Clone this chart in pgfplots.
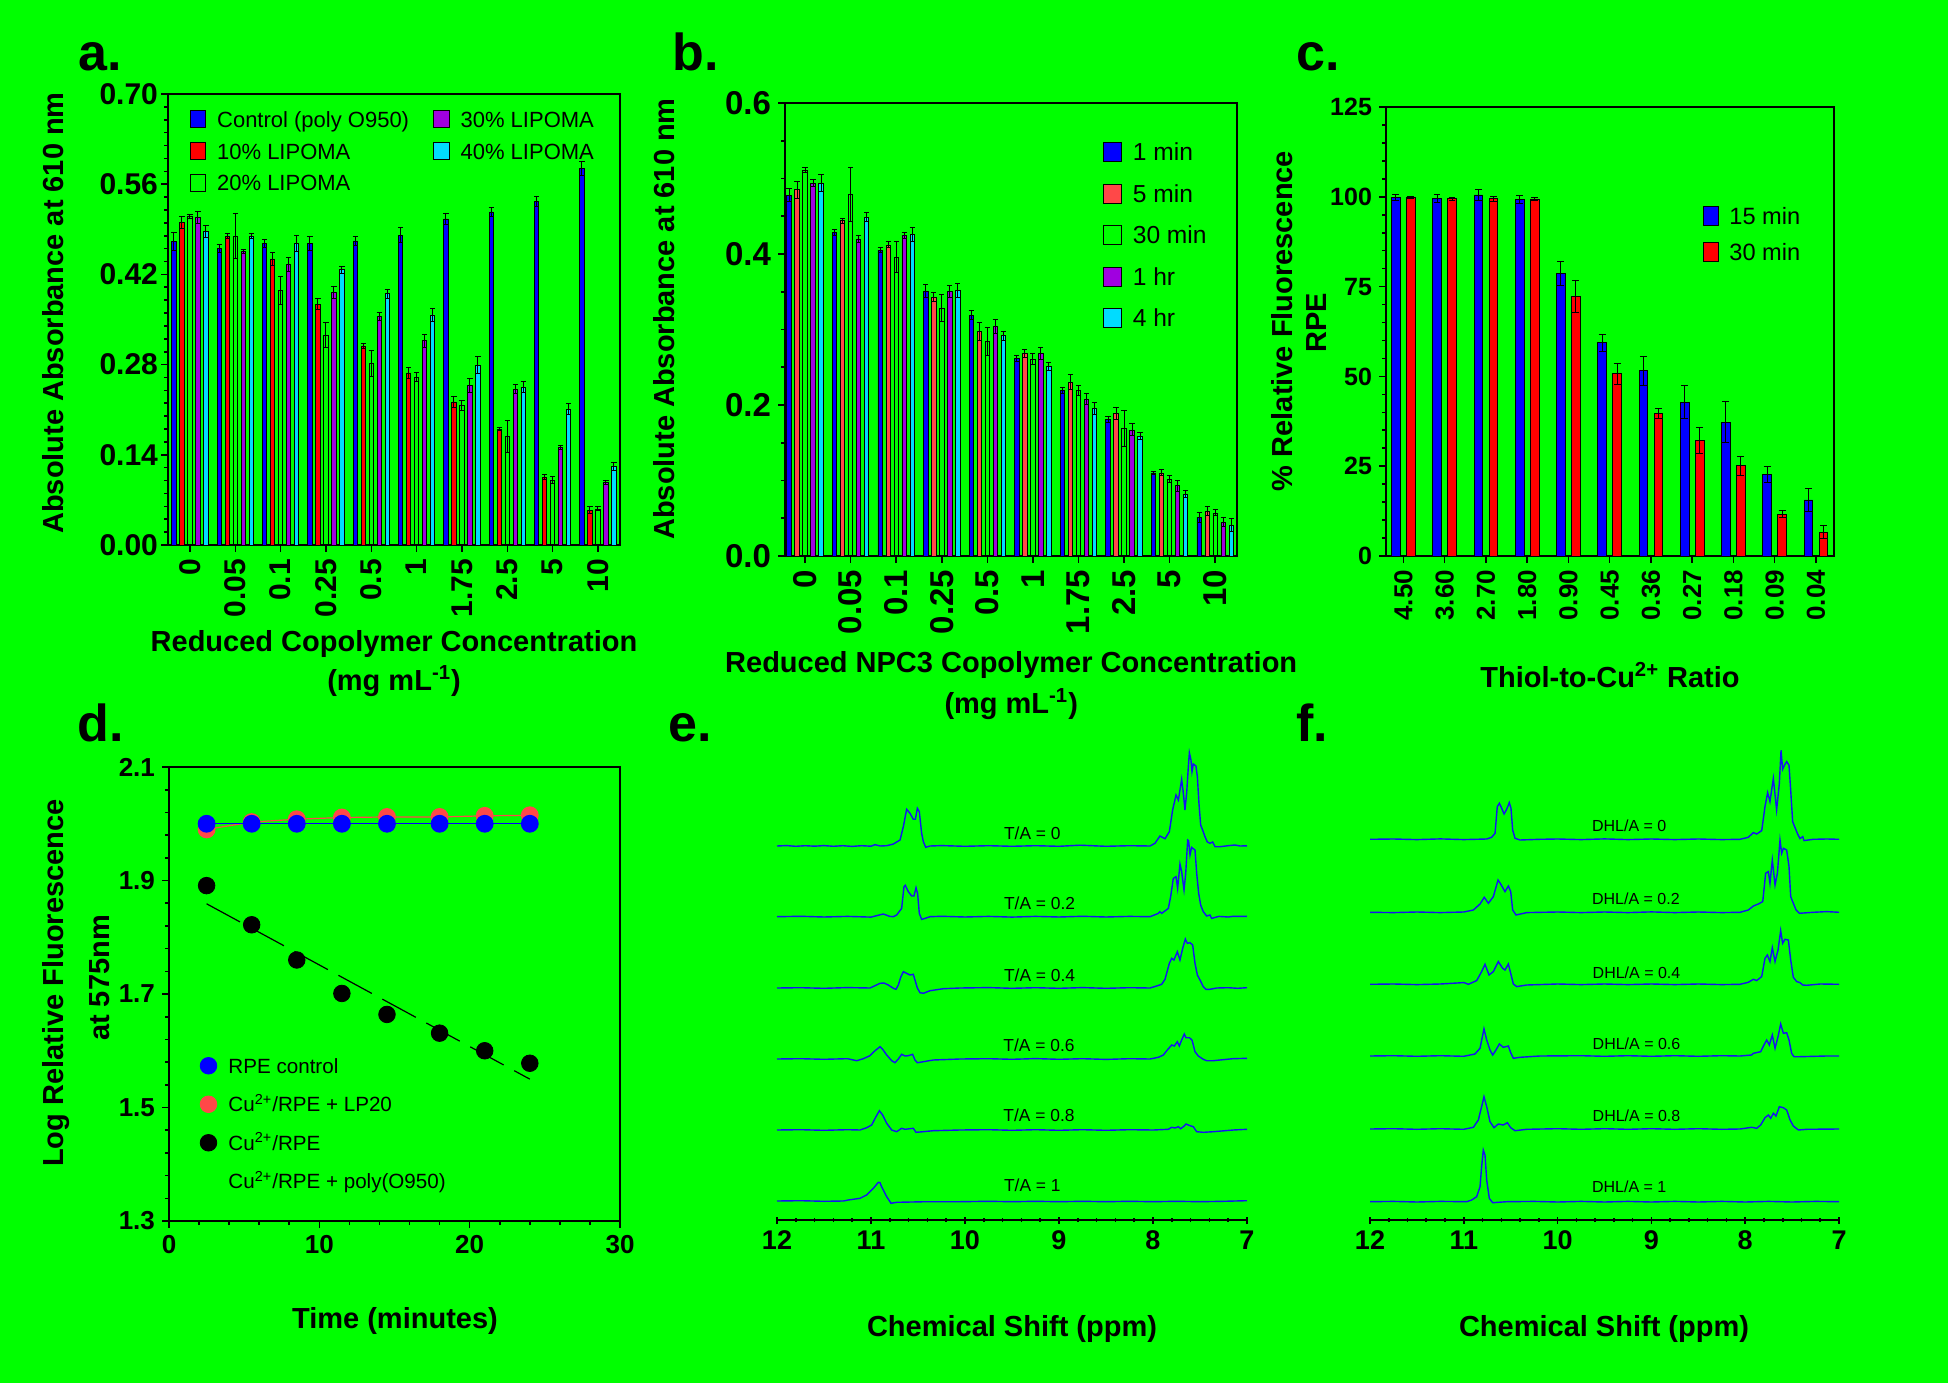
\documentclass[border=0pt]{standalone}
\usepackage{fontspec}
\setmainfont{Liberation Sans}
\usepackage{pgfplots}
\pgfplotsset{compat=1.18}

\definecolor{bg}{RGB}{0,255,0}
\definecolor{cblue}{RGB}{0,0,255}
\definecolor{cred}{RGB}{255,0,0}
\definecolor{lred}{RGB}{255,72,72}
\definecolor{cpurple}{RGB}{160,0,224}
\definecolor{ccyan}{RGB}{0,220,255}
\definecolor{cspec}{RGB}{20,20,240}

\newcommand{\fs}[1]{\fontsize{#1}{#1}\selectfont}

\pgfplotsset{
  panel/.style={scale only axis, anchor=south west, clip=false,
    axis line style={line width=1pt}, tick align=outside, tick pos=left,
    tick style={black, line width=0.8pt}, major tick length=3.5pt, minor tick length=2pt},
  bars/.style={panel, ybar, ymin=0,
    error bars/y dir=both, error bars/y explicit,
    error bars/error bar style={black, line width=0.5pt},
    error bars/error mark options={black, rotate=90, mark size=1.3pt, line width=0.5pt},
    xticklabel style={rotate=90, anchor=east},
    legend cell align=left},
  bx/.style={draw=black, line width=0.4pt, fill=#1},
  spec/.style={color=cspec, line width=0.7pt, mark=none},
}

\begin{document}
\begin{tikzpicture}
\fill[bg] (0,0) rectangle (974pt,691.5pt);
\useasboundingbox (0,0) rectangle (974pt,691.5pt);

% ---------------- a ----------------
\begin{axis}[bars, at={(84pt,419pt)}, width=226pt, height=225.5pt,
  xmin=-0.485, xmax=9.486, ymax=0.7, bar width=2.2pt,
  xtick={0,...,9}, xticklabels={0,0.05,0.1,0.25,0.5,1,1.75,2.5,5,10},
  ytick={0,0.14,0.28,0.42,0.56,0.7}, yticklabels={0.00,0.14,0.28,0.42,0.56,0.70},
  minor y tick num=6,
  tick label style={font=\fs{15}\bfseries},
  yticklabel style={xshift=2pt},
  legend style={at={(0.047,0.9645)}, anchor=north west, draw=none, fill=none, inner sep=0pt,
    font=\fs{11}, row sep=7.15pt, nodes={inner sep=0pt, text height=7.9pt, text depth=0pt},
    /tikz/every odd column/.append style={column sep=5.5pt},
    /tikz/every even column/.append style={column sep=12pt}},
  legend columns=3, transpose legend,
  legend image code/.code={\draw[#1,/tikz/.cd,line width=0.4pt] (0pt,-4.2pt) rectangle (7.85pt,4.2pt);},
]
\addplot[bx=cblue, bar shift=-8pt] coordinates {
(0,0.471) +- (0,0.014) (1,0.460) +- (0,0.006) (2,0.468) +- (0,0.006) (3,0.468) +- (0,0.011)
(4,0.472) +- (0,0.007) (5,0.481) +- (0,0.012) (6,0.506) +- (0,0.008) (7,0.517) +- (0,0.007)
(8,0.533) +- (0,0.008) (9,0.585) +- (0,0.011)};
\addlegendentry{Control (poly O950)}
\addplot[bx=cred, bar shift=-4pt] coordinates {
(0,0.501) +- (0,0.009) (1,0.479) +- (0,0.004) (2,0.444) +- (0,0.010) (3,0.374) +- (0,0.009)
(4,0.309) +- (0,0.004) (5,0.267) +- (0,0.008) (6,0.222) +- (0,0.008) (7,0.180) +- (0,0.003)
(8,0.105) +- (0,0.004) (9,0.054) +- (0,0.005)};
\addlegendentry{10\% LIPOMA}
\addplot[draw=black, line width=0.4pt, fill=none, bar shift=0pt] coordinates {
(0,0.510) +- (0,0.003) (1,0.479) +- (0,0.035) (2,0.395) +- (0,0.021) (3,0.326) +- (0,0.020)
(4,0.282) +- (0,0.020) (5,0.260) +- (0,0.007) (6,0.217) +- (0,0.008) (7,0.168) +- (0,0.025)
(8,0.101) +- (0,0.005) (9,0.056) +- (0,0.003)};
\addlegendentry{20\% LIPOMA}
\addplot[bx=cpurple, bar shift=4pt] coordinates {
(0,0.508) +- (0,0.009) (1,0.455) +- (0,0.003) (2,0.436) +- (0,0.011) (3,0.392) +- (0,0.010)
(4,0.355) +- (0,0.006) (5,0.317) +- (0,0.010) (6,0.248) +- (0,0.011) (7,0.242) +- (0,0.007)
(8,0.151) +- (0,0.003) (9,0.097) +- (0,0.003)};
\addlegendentry{30\% LIPOMA}
\addplot[bx=ccyan, bar shift=8pt] coordinates {
(0,0.487) +- (0,0.009) (1,0.479) +- (0,0.004) (2,0.468) +- (0,0.012) (3,0.427) +- (0,0.005)
(4,0.390) +- (0,0.007) (5,0.357) +- (0,0.010) (6,0.279) +- (0,0.013) (7,0.245) +- (0,0.008)
(8,0.211) +- (0,0.009) (9,0.122) +- (0,0.006)};
\addlegendentry{40\% LIPOMA}
\end{axis}

% ---------------- b ----------------
\begin{axis}[bars, at={(392.5pt,413.5pt)}, width=226pt, height=226.5pt,
  xmin=-0.44, xmax=9.48, ymax=0.6, bar width=2.2pt,
  xtick={0,...,9}, xticklabels={0,0.05,0.1,0.25,0.5,1,1.75,2.5,5,10},
  ytick={0,0.2,0.4,0.6}, yticklabels={0.0,0.2,0.4,0.6},
  minor y tick num=3,
  tick label style={font=\fs{16.5}\bfseries},
  legend style={at={(0.702,0.9146)}, anchor=north west, draw=none, fill=none, inner sep=0pt,
    font=\fs{12.3}, row sep=10.75pt, nodes={inner sep=0pt, text height=8.8pt, text depth=0pt},
    /tikz/every odd column/.append style={column sep=5.5pt}},
  legend image code/.code={\draw[#1,/tikz/.cd,line width=0.4pt] (0pt,-4.8pt) rectangle (9.15pt,4.8pt);},
]
\addplot[bx=cblue, bar shift=-8pt] coordinates {
(0,0.478) +- (0,0.009) (1,0.429) +- (0,0.004) (2,0.405) +- (0,0.003) (3,0.351) +- (0,0.008)
(4,0.319) +- (0,0.006) (5,0.262) +- (0,0.004) (6,0.219) +- (0,0.004) (7,0.181) +- (0,0.004)
(8,0.110) +- (0,0.002) (9,0.051) +- (0,0.006)};
\addlegendentry{1 min}
\addplot[bx=lred, bar shift=-4pt] coordinates {
(0,0.485) +- (0,0.011) (1,0.444) +- (0,0.003) (2,0.412) +- (0,0.004) (3,0.343) +- (0,0.006)
(4,0.297) +- (0,0.012) (5,0.268) +- (0,0.005) (6,0.230) +- (0,0.010) (7,0.189) +- (0,0.008)
(8,0.110) +- (0,0.004) (9,0.059) +- (0,0.006)};
\addlegendentry{5 min}
\addplot[draw=black, line width=0.4pt, fill=none, bar shift=0pt] coordinates {
(0,0.511) +- (0,0.003) (1,0.479) +- (0,0.036) (2,0.396) +- (0,0.020) (3,0.328) +- (0,0.018)
(4,0.284) +- (0,0.018) (5,0.261) +- (0,0.007) (6,0.219) +- (0,0.007) (7,0.169) +- (0,0.024)
(8,0.102) +- (0,0.004) (9,0.057) +- (0,0.004)};
\addlegendentry{30 min}
\addplot[bx=cpurple, bar shift=4pt] coordinates {
(0,0.494) +- (0,0.005) (1,0.420) +- (0,0.005) (2,0.425) +- (0,0.004) (3,0.350) +- (0,0.008)
(4,0.304) +- (0,0.009) (5,0.268) +- (0,0.008) (6,0.208) +- (0,0.007) (7,0.167) +- (0,0.008)
(8,0.093) +- (0,0.007) (9,0.045) +- (0,0.006)};
\addlegendentry{1 hr}
\addplot[bx=ccyan, bar shift=8pt] coordinates {
(0,0.494) +- (0,0.011) (1,0.449) +- (0,0.006) (2,0.426) +- (0,0.009) (3,0.352) +- (0,0.009)
(4,0.292) +- (0,0.006) (5,0.251) +- (0,0.005) (6,0.195) +- (0,0.008) (7,0.159) +- (0,0.005)
(8,0.082) +- (0,0.005) (9,0.041) +- (0,0.009)};
\addlegendentry{4 hr}
\end{axis}

% ---------------- c ----------------
\begin{axis}[bars, at={(693pt,413.5pt)}, width=224pt, height=224.5pt,
  xmin=-0.42, xmax=10.44, ymax=125, bar width=4.3pt,
  error bars/error mark options={black, rotate=90, mark size=1.7pt, line width=0.5pt},
  xtick={0,...,10}, xticklabels={4.50,3.60,2.70,1.80,0.90,0.45,0.36,0.27,0.18,0.09,0.04},
  ytick={0,25,50,75,100,125}, yticklabels={0,25,50,75,100,125},
  minor y tick num=4,
  xticklabel style={font=\fs{13}\bfseries},
  yticklabel style={font=\fs{12.5}\bfseries},
  legend style={at={(0.706,0.780)}, anchor=north west, draw=none, fill=none, inner sep=0pt,
    font=\fs{11.8}, row sep=8.05pt, nodes={inner sep=0pt, text height=8.5pt, text depth=0pt},
    /tikz/every odd column/.append style={column sep=5.3pt}},
  legend image code/.code={\draw[#1,/tikz/.cd,line width=0.4pt] (0pt,-4.8pt) rectangle (7.65pt,4.8pt);},
]
\addplot[bx=cblue, bar shift=-3.75pt] coordinates {
(0,99.8) +- (0,0.8) (1,99.5) +- (0,1.2) (2,100.5) +- (0,1.6) (3,99.3) +- (0,1.1)
(4,78.7) +- (0,3.3) (5,59.4) +- (0,2.4) (6,51.6) +- (0,4.0) (7,42.8) +- (0,4.6)
(8,37.3) +- (0,5.6) (9,22.7) +- (0,2.3) (10,15.6) +- (0,3.3)};
\addlegendentry{15 min}
\addplot[bx=cred, bar shift=3.75pt] coordinates {
(0,99.8) +- (0,0.3) (1,99.5) +- (0,0.4) (2,99.5) +- (0,0.7) (3,99.4) +- (0,0.5)
(4,72.2) +- (0,4.4) (5,50.7) +- (0,2.9) (6,39.7) +- (0,1.4) (7,32.1) +- (0,3.6)
(8,25.1) +- (0,2.6) (9,11.6) +- (0,1.0) (10,6.6) +- (0,1.8)};
\addlegendentry{30 min}
\end{axis}

% ---------------- d ----------------
\begin{axis}[panel, at={(84.5pt,81pt)}, width=225.5pt, height=227pt,
  xmin=0, xmax=30, ymin=1.3, ymax=2.1,
  xtick={0,10,20,30}, xticklabels={0,10,20,30}, minor x tick num=4,
  ytick={1.3,1.5,1.7,1.9,2.1}, yticklabels={1.3,1.5,1.7,1.9,2.1}, minor y tick num=4,
  tick label style={font=\fs{13}\bfseries},
  legend cell align=left,
  legend style={at={(0.0674,0.362)}, anchor=north west, draw=none, fill=none, inner sep=0pt,
    font=\fs{10.3}, row sep=10.55pt, nodes={inner sep=0pt, text height=7.4pt, text depth=0pt},
    /tikz/every odd column/.append style={column sep=5.65pt}},
  legend image code/.code={\fill[#1] (4.15pt,0pt) circle[radius=4.15pt];},
]
\addplot[forget plot, black, line width=0.6pt, dash pattern=on 19pt off 6pt] coordinates {(2.5,1.859) (24,1.550)};
\addplot[forget plot, lred, line width=0.6pt, mark=*, mark size=4.15pt, mark options={draw=none, fill=lred}] coordinates {
(2.5,1.990) (5.5,2.003) (8.5,2.008) (11.5,2.011) (14.5,2.012) (18,2.012) (21,2.014) (24,2.015)};
\addplot[forget plot, cblue, line width=0.6pt, mark=*, mark size=4.15pt, mark options={draw=none, fill=cblue}] coordinates {
(2.5,2.0) (5.5,2.0) (8.5,2.0) (11.5,2.0) (14.5,2.0) (18,2.0) (21,2.0) (24,2.0)};
\addplot[forget plot, only marks, mark=*, mark size=4.15pt, mark options={draw=none, fill=black}] coordinates {
(2.5,1.891) (5.5,1.822) (8.5,1.760) (11.5,1.701) (14.5,1.664) (18,1.631) (21,1.600) (24,1.578)};
\addlegendimage{cblue}
\addlegendentry{RPE control}
\addlegendimage{lred}
\addlegendentry{Cu\textsuperscript{2+}/RPE + LP20}
\addlegendimage{black}
\addlegendentry{Cu\textsuperscript{2+}/RPE}
\addlegendimage{opacity=0, draw=none, fill=none}
\addlegendentry{Cu\textsuperscript{2+}/RPE + poly(O950)}
\end{axis}

% ---------------- e ----------------
\begin{axis}[panel, at={(388.5pt,81.5pt)}, width=235pt, height=240pt,
  axis x line=bottom, axis y line=none, x axis line style={-},
  x dir=reverse, xmin=7, xmax=12, ymin=0, ymax=480,
  xtick={7,...,12}, xticklabels={7,8,9,10,11,12}, minor x tick num=4,
  xticklabel style={font=\fs{13.5}\bfseries},
]
\addplot[spec] table[x=ppm, y expr=\thisrow{i}+374] {
ppm i
12.00 0
11.90 0.4
11.80 -0.3
11.70 0.3
11.60 -0.2
11.50 0.4
11.40 -0.3
11.30 0.3
11.20 -0.4
11.10 0.3
11.00 -0.2
10.957 1.3
10.90 0
10.833 0.3
10.762 2
10.691 6
10.656 19.3
10.621 36.7
10.585 32.7
10.550 26.7
10.528 26.7
10.507 37.7
10.486 34.3
10.461 12.7
10.443 4.3
10.418 -1.3
10.372 0
10.25 0.4
10.00 -0.3
9.75 0.3
9.50 -0.3
9.25 0.3
9.00 -0.3
8.777 0.8
8.50 -0.3
8.25 0.3
8.032 0
7.979 2.7
7.926 10
7.901 8.7
7.872 7.3
7.826 14.3
7.791 36
7.755 51
7.730 46
7.713 56
7.695 66.7
7.677 52.7
7.660 36
7.642 52.7
7.624 79.3
7.613 93.3
7.596 86
7.585 74.3
7.571 82
7.543 80
7.528 69.3
7.511 42.7
7.493 21
7.472 16
7.447 9.3
7.422 4
7.394 2.7
7.365 4
7.340 -0.7
7.287 -0.7
7.20 0.3
7.128 1
7.074 0
7.00 0.2
};
\addplot[spec] table[x=ppm, y expr=\thisrow{i}+303.3] {
ppm i
12.00 0
11.75 0.4
11.50 -0.3
11.25 0.3
11.00 -0.4
10.869 2.7
10.80 0.3
10.762 0
10.727 1.7
10.674 8.3
10.649 30
10.635 31.3
10.603 25
10.567 20.7
10.543 20.7
10.521 29
10.504 23
10.486 3.3
10.461 -2.7
10.426 -1.7
10.372 0
10.25 0.4
10.00 -0.3
9.75 0.3
9.50 -0.4
9.25 0.3
9.00 -0.3
8.75 0.4
8.50 -0.3
8.25 0.3
8.032 0
7.943 3.3
7.926 5
7.908 3.3
7.837 8.3
7.812 20
7.784 38.3
7.755 40
7.738 28.3
7.713 52.7
7.695 45
7.670 26.7
7.652 43.3
7.631 76.7
7.621 76
7.606 61.7
7.589 69.3
7.553 66.7
7.535 43.3
7.514 23.3
7.493 11.7
7.465 5
7.429 0.7
7.394 1.7
7.376 -1.7
7.30 0.3
7.20 -0.3
7.145 0.4
7.00 0.3
};
\addplot[spec] table[x=ppm, y expr=\thisrow{i}+232] {
ppm i
12.00 0
11.75 0.3
11.50 -0.3
11.25 0.4
11.011 0
10.957 2.3
10.904 4.7
10.862 5
10.816 3
10.762 -0.3
10.734 -1.3
10.709 3
10.684 10.7
10.656 16.3
10.621 14.7
10.585 13
10.550 13.7
10.532 8
10.507 0
10.479 -4.7
10.443 -5.3
10.372 -2.7
10.230 -0.7
10.053 0
9.75 0.4
9.50 -0.3
9.25 0.3
9.00 -0.3
8.75 0.4
8.50 -0.3
8.25 0.3
8.032 0
7.961 2
7.908 3.7
7.872 8.7
7.826 24.7
7.801 29.7
7.777 28
7.741 36.3
7.713 28
7.684 39.7
7.656 49
7.635 44.7
7.606 45.3
7.578 43
7.553 24.7
7.528 13
7.500 8
7.465 1.3
7.436 -1.3
7.394 -1.3
7.323 0
7.20 0.3
7.10 -0.3
7.00 0.3
};
\addplot[spec] table[x=ppm, y expr=\thisrow{i}+161] {
ppm i
12.00 0
11.75 0.3
11.50 -0.3
11.25 0.3
11.152 -1.7
11.082 0.3
11.011 3.3
10.957 8.3
10.904 12.3
10.876 9.7
10.833 4
10.780 -1.7
10.745 -3.7
10.709 0
10.674 4.7
10.638 3
10.603 3.3
10.557 4.7
10.532 -1
10.507 -3.7
10.443 -2.7
10.337 -1
10.053 0
9.75 0.3
9.50 -0.3
9.25 0.4
9.00 -0.3
8.75 0.3
8.50 -0.4
8.25 0.3
8.032 0
7.943 1.7
7.890 4
7.848 9
7.801 14
7.773 13
7.741 17.3
7.720 13
7.695 19
7.667 25
7.649 21.3
7.613 21.3
7.585 19
7.553 7.3
7.518 3
7.465 -0.3
7.429 -1.7
7.358 -1.7
7.287 -1
7.15 0.3
7.00 0.7
};
\addplot[spec] table[x=ppm, y expr=\thisrow{i}+90] {
ppm i
12.00 0
11.75 0.3
11.50 -0.3
11.25 0.3
11.117 0
11.046 2.3
10.993 5
10.947 13.3
10.911 19.3
10.876 15
10.833 6.7
10.780 0
10.727 -1.7
10.674 1.7
10.638 0.7
10.550 1.7
10.521 -2.3
10.479 -2
10.337 -0.7
10.053 0
9.75 0.3
9.50 -0.3
9.25 0.3
9.00 -0.3
8.75 0.3
8.50 -0.3
8.25 0.3
7.996 0
7.837 0.7
7.801 2.7
7.766 2
7.730 3.3
7.706 1.3
7.677 3.3
7.649 6
7.606 4.3
7.571 3.3
7.535 -1.7
7.465 -2.3
7.358 -1.7
7.145 0
7.00 0.7
};
\addplot[spec] table[x=ppm, y expr=\thisrow{i}+19] {
ppm i
12.00 0
11.75 0.3
11.50 -0.3
11.294 0
11.241 1
11.117 2.7
11.046 6
10.975 12.7
10.922 18.7
10.904 18.3
10.887 14.3
10.833 4.3
10.787 -2.3
10.727 -1.3
10.408 -0.7
10.053 -0.7
9.75 -0.3
9.50 -0.7
9.25 -0.3
9.00 -0.7
8.75 -0.3
8.50 -0.7
8.25 -0.3
8.00 -0.7
7.75 -0.3
7.50 -0.7
7.25 -0.3
7.00 0.3
};
\node[font=\fs{8.7}, anchor=west, inner sep=0pt] at (axis cs:9.589,386.7) {T/A = 0};
\node[font=\fs{8.7}, anchor=west, inner sep=0pt] at (axis cs:9.589,316.7) {T/A = 0.2};
\node[font=\fs{8.7}, anchor=west, inner sep=0pt] at (axis cs:9.589,244.7) {T/A = 0.4};
\node[font=\fs{8.7}, anchor=west, inner sep=0pt] at (axis cs:9.595,175) {T/A = 0.6};
\node[font=\fs{8.7}, anchor=west, inner sep=0pt] at (axis cs:9.595,104.3) {T/A = 0.8};
\node[font=\fs{8.7}, anchor=west, inner sep=0pt] at (axis cs:9.589,35) {T/A = 1};
\end{axis}

% ---------------- f ----------------
\begin{axis}[panel, at={(685pt,81.5pt)}, width=234.5pt, height=240pt,
  axis x line=bottom, axis y line=none, x axis line style={-},
  x dir=reverse, xmin=7, xmax=12, ymin=0, ymax=480,
  xtick={7,...,12}, xticklabels={7,8,9,10,11,12}, minor x tick num=4,
  xticklabel style={font=\fs{13.5}\bfseries},
]
\addplot[spec] table[x=ppm, y expr=\thisrow{i}+380.7] {
ppm i
12.00 0
11.75 0.3
11.50 -0.3
11.25 0.4
11.00 -0.3
10.756 0.3
10.703 2
10.667 6
10.643 32.7
10.621 36
10.596 31
10.571 25.3
10.543 30
10.515 36.7
10.497 31
10.479 9.3
10.454 1
10.401 -0.7
10.188 0
10.00 0.3
9.75 -0.3
9.50 0.4
9.25 -0.3
9.00 0.3
8.75 -0.3
8.50 0.3
8.25 -0.3
8.055 0
7.967 2
7.913 6.7
7.878 5.3
7.824 8.7
7.789 32.7
7.761 46.7
7.736 37.7
7.700 61
7.665 29.3
7.636 56
7.618 89
7.601 70
7.576 75
7.558 77.7
7.533 74
7.515 49
7.494 17.7
7.480 14.3
7.440 5
7.416 0.7
7.387 2.7
7.373 -1.3
7.274 0
7.131 0.3
7.00 0
};
\addplot[spec] table[x=ppm, y expr=\thisrow{i}+307.7] {
ppm i
12.00 0
11.75 -0.3
11.50 0.3
11.25 -0.3
11.00 0.3
10.898 2.3
10.827 8.3
10.782 15
10.738 9
10.685 15.7
10.635 32.3
10.607 28.3
10.561 20.7
10.525 26.3
10.500 20.7
10.479 2.3
10.443 -2.7
10.330 -0.3
10.00 0.3
9.75 -0.3
9.50 0.3
9.25 -0.3
9.00 0.4
8.75 -0.3
8.50 0.3
8.25 -0.3
8.055 0
7.967 2.3
7.913 6.3
7.860 8.3
7.813 10.7
7.782 39
7.753 40.7
7.736 29
7.711 52.3
7.682 27.3
7.657 39
7.629 72.3
7.611 59
7.593 64
7.558 62.3
7.533 45.7
7.515 15.7
7.487 9
7.458 2.3
7.423 -1
7.274 0
7.131 0.7
7.00 0
};
\addplot[spec] table[x=ppm, y expr=\thisrow{i}+235.7] {
ppm i
12.00 0
11.75 0.3
11.50 -0.3
11.25 0.3
10.998 1.7
10.951 0
10.863 3.7
10.810 12.7
10.774 20
10.731 9.3
10.685 12.7
10.632 22.7
10.586 16
10.561 14.3
10.525 20.3
10.500 11
10.472 0.3
10.436 -2.3
10.330 -0.7
10.00 0.3
9.75 -0.3
9.50 0.3
9.25 -0.3
9.00 0.3
8.75 -0.3
8.50 0.3
8.25 -0.3
8.055 0
7.967 2
7.913 5
7.878 3.7
7.824 7.7
7.789 26
7.764 29.3
7.736 22.7
7.711 36.7
7.682 22.7
7.650 34.3
7.622 53.7
7.601 41
7.576 45
7.540 44.3
7.515 24.3
7.487 7
7.451 2.7
7.416 1.7
7.387 -0.7
7.345 -1
7.20 0.3
7.00 0
};
\addplot[spec] table[x=ppm, y expr=\thisrow{i}+164] {
ppm i
12.00 0
11.75 0.3
11.50 -0.3
11.25 0.3
11.00 -0.3
10.881 2
10.827 7.7
10.785 27.3
10.756 16
10.721 6
10.692 1
10.657 6
10.621 12
10.579 8.7
10.525 10
10.500 3.3
10.472 -2.3
10.401 -1.3
10.188 0
9.75 0.3
9.50 -0.3
9.25 0.3
9.00 -0.3
8.75 0.3
8.50 -0.3
8.25 0.3
8.055 0
7.931 1
7.913 2.7
7.835 4.3
7.800 11
7.771 16
7.743 11
7.711 21
7.682 7.7
7.650 19.3
7.622 32
7.593 22.7
7.558 23.3
7.533 16
7.505 2.7
7.480 -0.7
7.416 -0.7
7.131 0
7.00 0
};
\addplot[spec] table[x=ppm, y expr=\thisrow{i}+91] {
ppm i
12.00 0
11.75 0.3
11.50 -0.3
11.25 0.3
11.00 -0.3
10.898 1.7
10.845 9
10.810 22.3
10.785 32.3
10.756 22.3
10.721 7.3
10.678 1.3
10.632 5
10.579 4
10.536 6.3
10.500 1.3
10.454 -1.7
10.330 -0.3
10.00 0.3
9.75 -0.3
9.50 0.3
9.25 -0.3
9.00 0.3
8.75 -0.3
8.50 0.3
8.25 -0.3
8.055 0
7.931 1.7
7.878 0.7
7.835 4
7.789 11.3
7.753 14
7.728 10.7
7.700 15.7
7.672 13
7.636 22.3
7.593 21.3
7.558 19
7.522 9
7.487 3
7.433 -1
7.345 -0.3
7.00 0
};
\addplot[spec] table[x=ppm, y expr=\thisrow{i}+18.3] {
ppm i
12.00 0
11.75 0.3
11.50 -0.3
11.25 0.3
10.969 0
10.916 1.7
10.863 5
10.827 15
10.810 35
10.792 51.7
10.774 46.7
10.756 21.7
10.728 3.3
10.692 -1
10.543 0
10.25 0.3
10.00 -0.3
9.75 0.3
9.50 -0.3
9.25 0.3
9.00 -0.3
8.75 0.3
8.50 -0.3
8.25 0.3
8.00 -0.3
7.75 0.3
7.50 -0.3
7.25 0.3
7.00 0
};
\node[font=\fs{8}, anchor=west, inner sep=0pt] at (axis cs:9.637,394) {DHL/A = 0};
\node[font=\fs{8}, anchor=west, inner sep=0pt] at (axis cs:9.637,321.7) {DHL/A = 0.2};
\node[font=\fs{8}, anchor=west, inner sep=0pt] at (axis cs:9.630,247.7) {DHL/A = 0.4};
\node[font=\fs{8}, anchor=west, inner sep=0pt] at (axis cs:9.630,176.7) {DHL/A = 0.6};
\node[font=\fs{8}, anchor=west, inner sep=0pt] at (axis cs:9.630,104) {DHL/A = 0.8};
\node[font=\fs{8}, anchor=west, inner sep=0pt] at (axis cs:9.637,33.3) {DHL/A = 1};
\end{axis}

% ---------------- panel letters and axis titles ----------------
\tikzset{plab/.style={font=\fs{26}\bfseries, anchor=base west, inner sep=0pt, text depth=0pt},
         alab/.style={font=\fs{14.5}\bfseries, inner sep=0pt}}
\node[plab] at (39pt,656pt) {a.};
\node[plab] at (336pt,656pt) {b.};
\node[plab] at (648pt,656pt) {c.};
\node[plab] at (38.5pt,320.5pt) {d.};
\node[plab] at (334pt,320.5pt) {e.};
\node[plab] at (648pt,320.5pt) {f.};

\node[alab, rotate=90] at (26.7pt,535pt) {Absolute Absorbance at 610 nm};
\node[alab] at (197pt,369.5pt) {Reduced Copolymer Concentration};
\node[alab] at (197pt,351pt) {(mg mL\textsuperscript{-1})};

\node[alab, rotate=90] at (332.3pt,532pt) {Absolute Absorbance at 610 nm};
\node[alab] at (505.6pt,359pt) {Reduced NPC3 Copolymer Concentration};
\node[alab] at (505.6pt,339.5pt) {(mg mL\textsuperscript{-1})};

\node[alab, rotate=90] at (641pt,531pt) {\% Relative Fluorescence};
\node[alab, rotate=90] at (658.4pt,530pt) {RPE};
\node[alab] at (805pt,354pt) {Thiol-to-Cu\textsuperscript{2+} Ratio};

\node[alab, rotate=90] at (28pt,200pt) {Log Relative Fluorescence};
\node[alab, rotate=90] at (49.7pt,202.5pt) {at 575nm};
\node[alab] at (197.5pt,31pt) {Time (minutes)};

\node[alab] at (506pt,27pt) {Chemical Shift (ppm)};
\node[alab] at (802pt,27pt) {Chemical Shift (ppm)};
\end{tikzpicture}
\end{document}
